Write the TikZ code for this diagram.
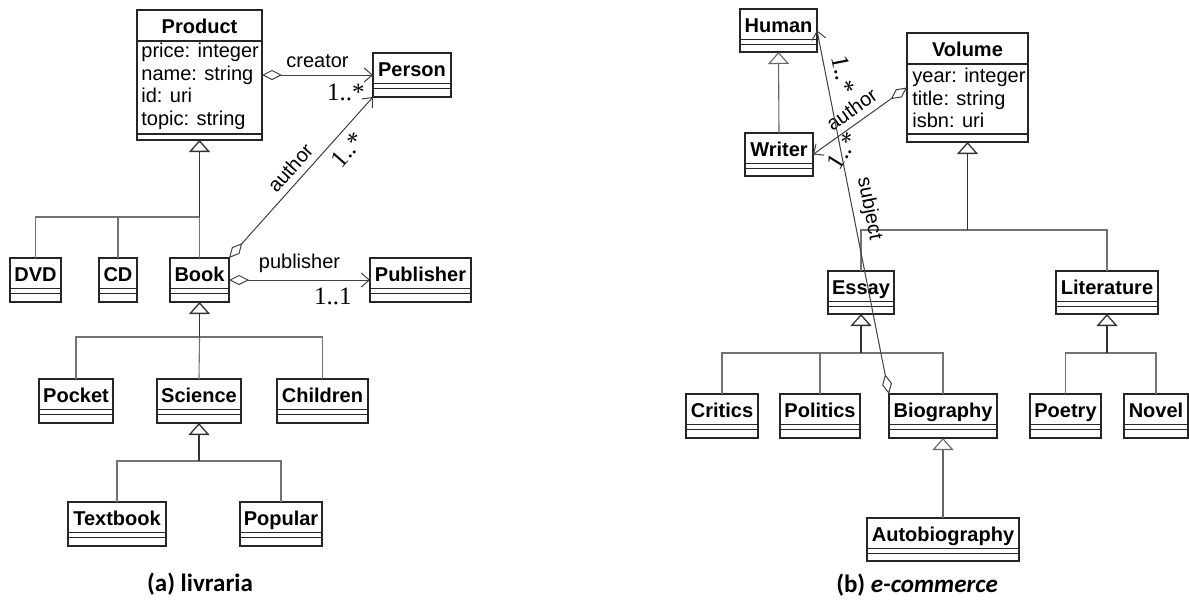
\documentclass[tikz,border=0pt]{standalone}
\usepackage{fontspec}
\setmainfont{Liberation Sans}
\newfontfamily\multfont{Liberation Serif}
\newfontfamily\capfont{Carlito}
\usetikzlibrary{arrows.meta}

\tikzset{
  clsbox/.style={rectangle, draw=black!85, line width=0.7pt, fill=white, inner sep=0pt, outer sep=0pt},
  clsline/.style={draw=black!85, line width=0.7pt},
  clstitle/.style={font=\bfseries, inner sep=0pt, anchor=base},
  attr/.style={inner sep=0pt, anchor=base west},
  stem/.style={draw=black!80, line width=0.65pt, -{Triangle[open, length=6pt, width=10.5pt]}},
  lightstem/.style={stem, draw=black!60, line width=0.55pt},
  branch/.style={draw=black!55, line width=0.55pt},
  assoc/.style={draw=black!75, line width=0.5pt,
    {Diamond[open, length=10pt, width=5pt]}-{Straight Barb[length=4pt, width=7pt]}},
  lbl/.style={font=\fontsize{10}{12}\selectfont},
  mult/.style={font=\multfont\fontsize{12.5}{14}\selectfont, inner sep=0pt},
  capt/.style={font=\capfont\bfseries\fontsize{12.5}{15}\selectfont, inner sep=0pt, anchor=base},
}

% class box: name, left, top, right, bottom, title (coordinates in pixel units)
\newcommand\umlclass[6]{%
  \node[clsbox, minimum width={(#4-#2)*0.5pt}, minimum height={(#5-#3)*0.5pt},
        anchor=north west] (#1) at (#2,#3) {};
  \node[clstitle] (#1-name) at ({(#2+#4)/2},{#3+23.5}) {#6};
}
% the two empty compartments under a title
\newcommand\emptyparts[1]{%
  \draw[clsline] ([yshift=-15.3pt]#1.north west) -- ([yshift=-15.3pt]#1.north east);
  \draw[clsline] ([yshift=-17.8pt]#1.north west) -- ([yshift=-17.8pt]#1.north east);
}

\begin{document}
\begin{tikzpicture}[x=0.5pt, y=-0.5pt]
\fill[white] (0,0) rectangle (1189,600);
\useasboundingbox (0,0) rectangle (1189,600);

% ---------------- (a) livraria ----------------
\umlclass{product}{137}{10}{262}{140}{Product}
\draw[clsline] (product.west |- 0,41) -- (product.east |- 0,41);
\draw[clsline] (product.west |- 0,134) -- (product.east |- 0,134);
\node[attr] (product-a1) at (141,57)  {price: integer};
\node[attr] (product-a2) at (141,80)  {name: string};
\node[attr] (product-a3) at (141,102) {id: uri};
\node[attr] (product-a4) at (141,125) {topic: string};

\umlclass{person}{373}{53}{451}{97}{Person}        \emptyparts{person}
\umlclass{dvd}{10}{258}{61}{302}{DVD}              \emptyparts{dvd}
\umlclass{cd}{99}{258}{137}{302}{CD}               \emptyparts{cd}
\umlclass{book}{170}{258}{229}{302}{Book}          \emptyparts{book}
\umlclass{publisher}{370}{258}{471}{302}{Publisher}\emptyparts{publisher}
\umlclass{pocket}{39}{379}{113}{423}{Pocket}       \emptyparts{pocket}
\umlclass{science}{157}{379}{241}{423}{Science}    \emptyparts{science}
\umlclass{children}{277}{379}{368}{423}{Children}  \emptyparts{children}
\umlclass{textbook}{68}{502}{166}{546}{Textbook}   \emptyparts{textbook}
\umlclass{popular}{240}{502}{322}{546}{Popular}    \emptyparts{popular}

% generalisations
\coordinate (j-product) at (product.south |- 0,217);
\draw[branch] (dvd.north) |- (j-product);
\draw[branch] (cd.north) -- (cd.north |- j-product);
\draw[branch] (book.north) -- (j-product);
\draw[stem] (j-product) -- (product.south);

\coordinate (j-book) at (book.south |- 0,337);
\draw[branch] (pocket.north) |- (j-book);
\draw[branch] (children.north) |- (j-book);
\draw[branch] (science.north) -- (j-book);
\draw[stem] (j-book) -- (book.south);

\coordinate (j-science) at (science.south |- 0,461);
\draw[branch] (textbook.north) |- (j-science);
\draw[branch] (popular.north) |- (j-science);
\draw[stem] (j-science) -- (science.south);

% associations
\draw[assoc] (product.east) -- node[lbl, above] (l-creator) {creator} (person.west)
  node[mult, at end, anchor=north east, xshift=-4pt, yshift=-4pt] (m-creator) {1..*};
\draw[assoc] (book.north east) -- node[lbl, sloped, above] (l-author) {author}
  node[mult, pos=0.74, sloped, below, inner sep=3.75pt] (m-author) {1..*} (person.south west);
\draw[assoc] (book.east) -- node[lbl, above] (l-publisher) {publisher} (publisher.west)
  node[mult, at end, anchor=north east, xshift=-9pt, yshift=-3.5pt] (m-publisher) {1..1};

\node[capt] (cap-a) at (200,591) {(a) livraria};

% ---------------- (b) e-commerce ----------------
\umlclass{human}{740}{9}{817}{52}{Human}           \emptyparts{human}
\umlclass{volume}{907}{33}{1028}{142}{Volume}
\draw[clsline] (volume.west |- 0,64) -- (volume.east |- 0,64);
\draw[clsline] (volume.west |- 0,134) -- (volume.east |- 0,134);
\node[attr] (volume-a1) at (912,82)  {year: integer};
\node[attr] (volume-a2) at (912,105) {title: string};
\node[attr] (volume-a3) at (912,127) {isbn: uri};

\umlclass{writer}{745}{133}{813}{176}{Writer}      \emptyparts{writer}
\umlclass{essay}{828}{271}{894}{314}{Essay}        \emptyparts{essay}
\umlclass{literature}{1056}{271}{1158}{314}{Literature}\emptyparts{literature}
\umlclass{critics}{686}{394}{758}{438}{Critics}    \emptyparts{critics}
\umlclass{politics}{780}{394}{860}{438}{Politics}  \emptyparts{politics}
\umlclass{biography}{889}{394}{997}{438}{Biography}\emptyparts{biography}
\umlclass{poetry}{1030}{394}{1101}{438}{Poetry}    \emptyparts{poetry}
\umlclass{novel}{1124}{394}{1188}{438}{Novel}      \emptyparts{novel}
\umlclass{autobiography}{867}{518}{1019}{561}{Autobiography}\emptyparts{autobiography}

% generalisations
\draw[lightstem] (writer.north) -- (human.south);

\coordinate (j-volume) at (volume.south |- 0,230);
\draw[branch] (essay.north) |- (j-volume);
\draw[branch] (literature.north) |- (j-volume);
\draw[stem] (j-volume) -- (volume.south);

\coordinate (j-essay) at (essay.south |- 0,353);
\draw[branch] (critics.north) |- (j-essay);
\draw[branch] (biography.north) |- (j-essay);
\draw[branch] (politics.north) -- (politics.north |- j-essay);
\draw[stem] (j-essay) -- (essay.south);

\coordinate (j-literature) at (literature.south |- 0,353);
\draw[branch] (poetry.north) |- (j-literature);
\draw[branch] (novel.north) |- (j-literature);
\draw[stem] (j-literature) -- (literature.south);

\draw[lightstem] (autobiography.north) -- (biography.south);

% associations
\draw[assoc] (volume.west) -- node[lbl, sloped, above] (l-author2) {author} (writer.east);
\node[mult, rotate=58] (m-author2) at (843,151) {1..*};
\draw[assoc] (biography.north west) -- node[lbl, sloped, above] (l-subject) {subject}
  node[mult, pos=0.87, sloped, above, inner sep=4.25pt] (m-subject) {1..*} (human.east);

\node[capt] (cap-b) at (917,592) {(b) \textit{e-commerce}};
\end{tikzpicture}
\end{document}
